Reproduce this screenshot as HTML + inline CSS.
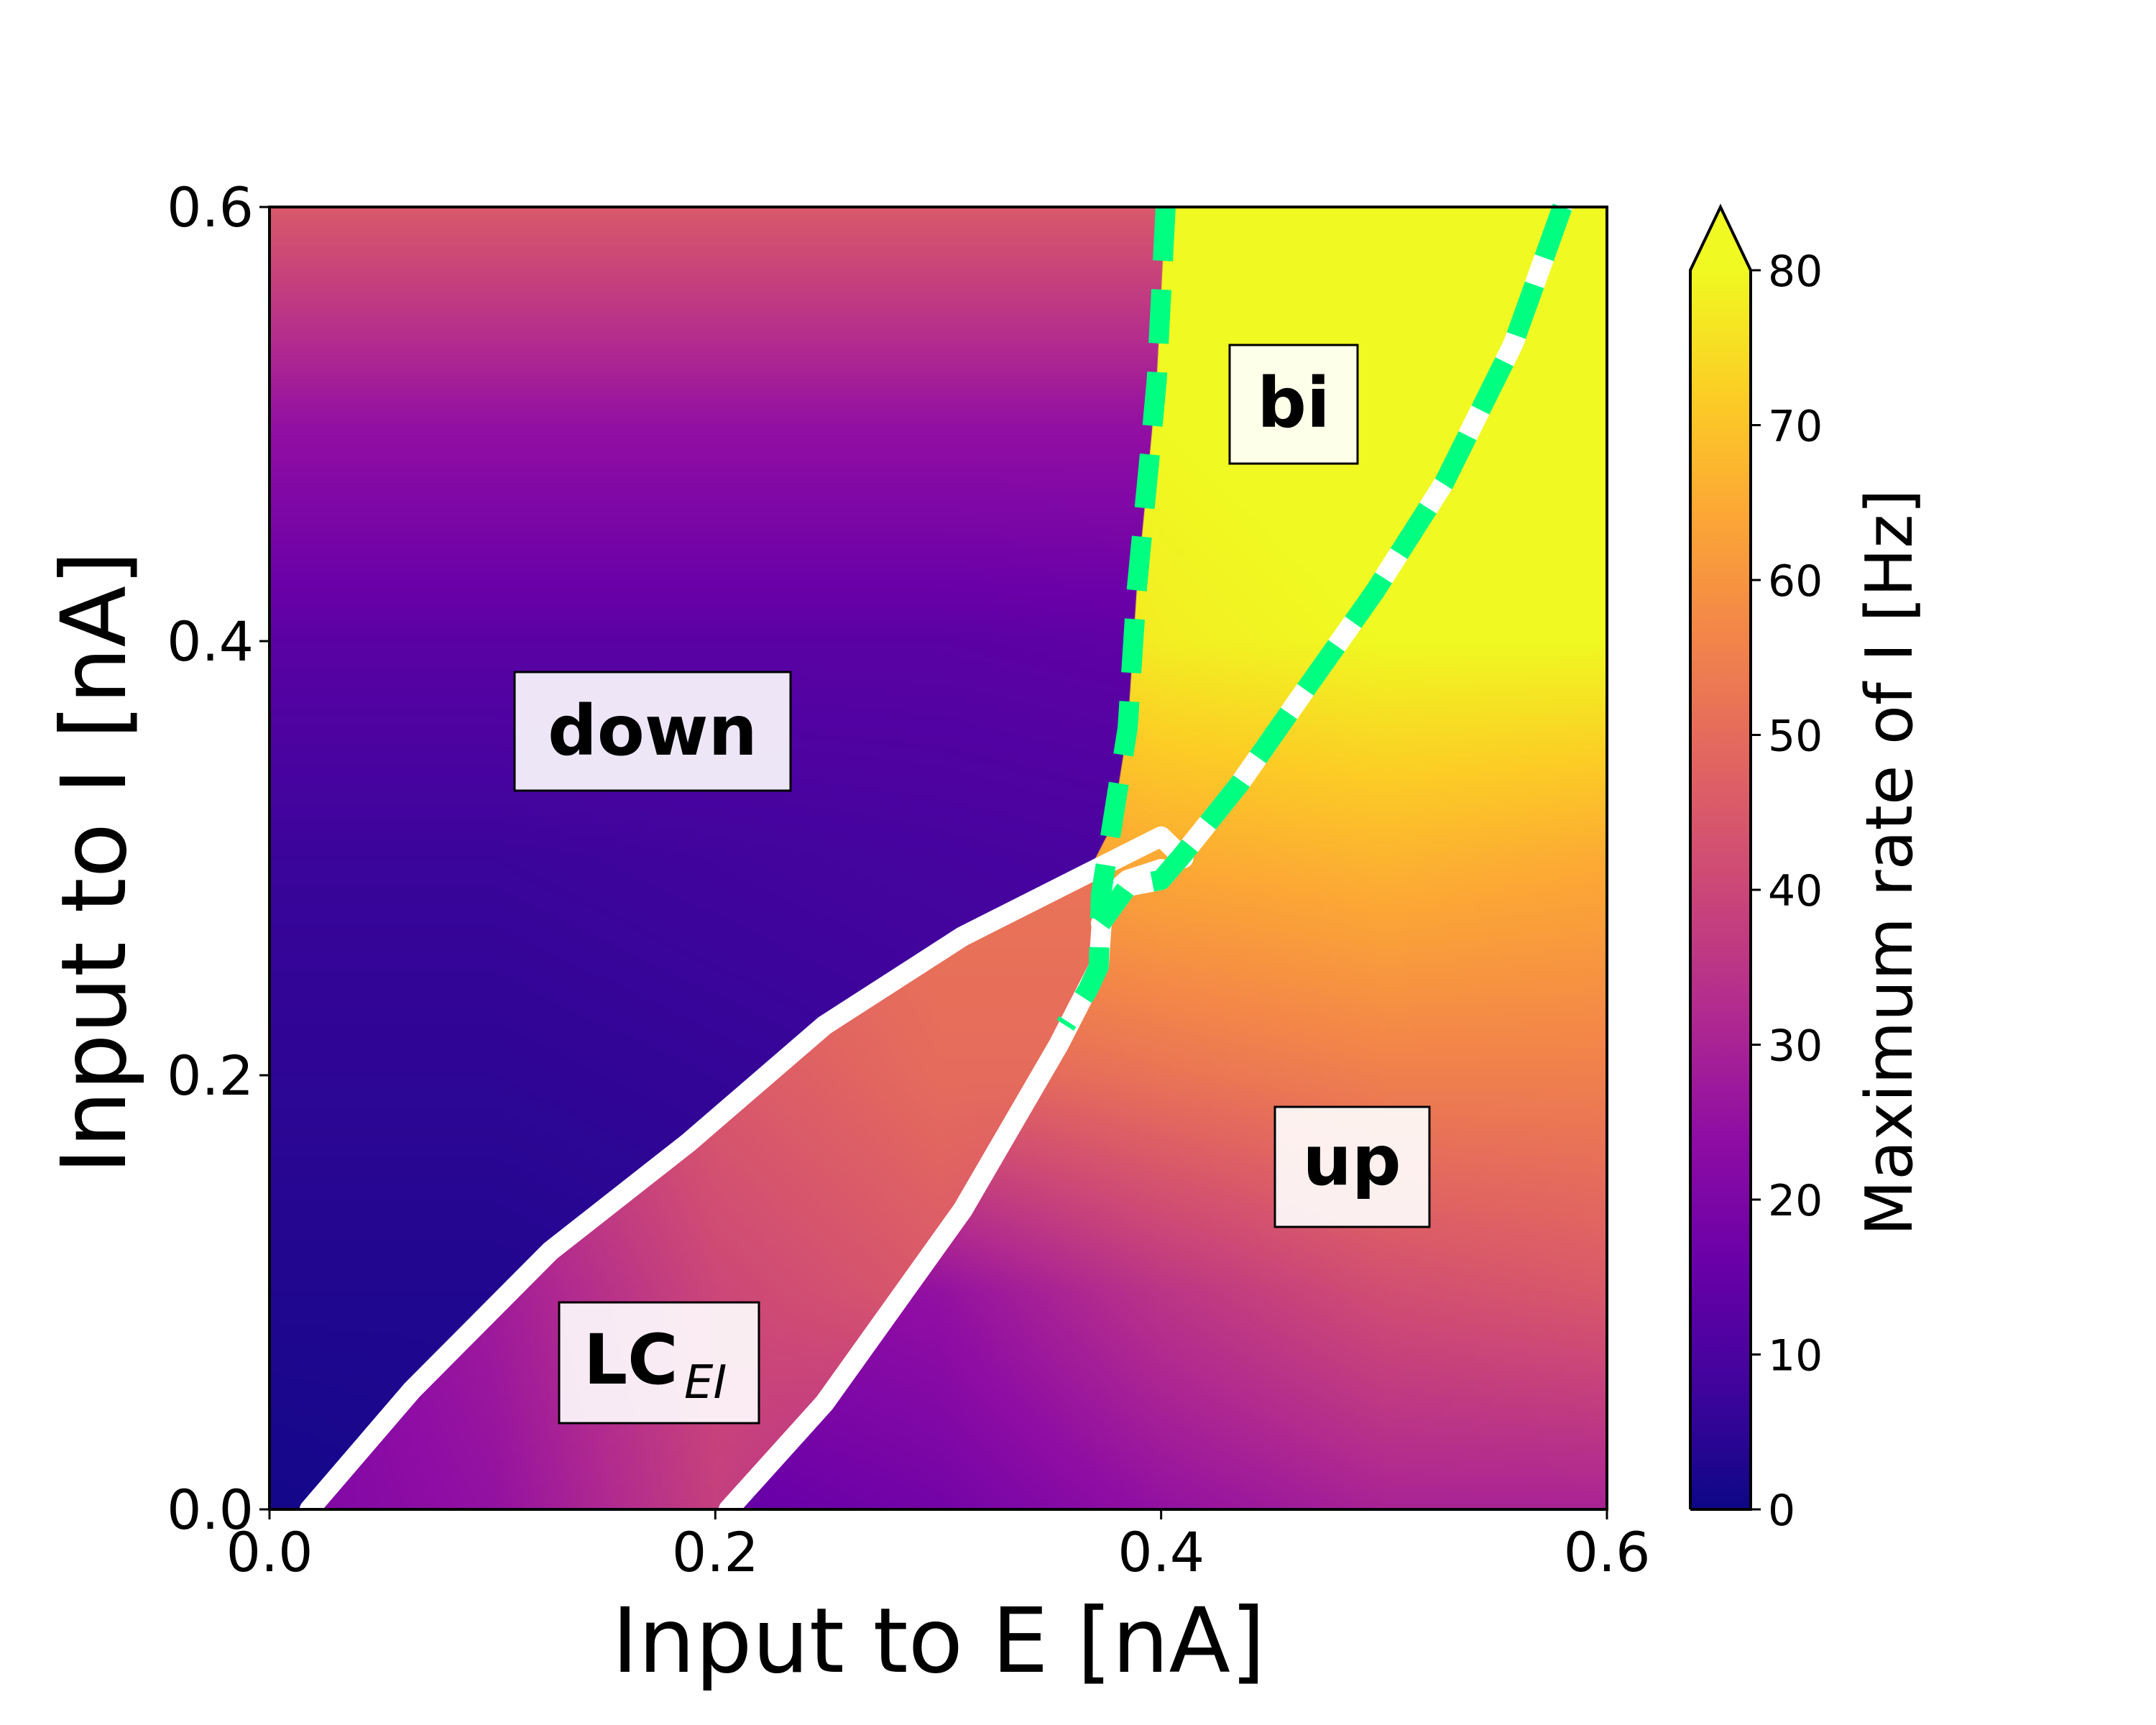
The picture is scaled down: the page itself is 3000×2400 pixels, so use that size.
<!DOCTYPE html>
<html><head><meta charset="utf-8"><style>
body{margin:0;background:#fff}
#wrap{position:relative;width:3000px;height:2400px;overflow:hidden;font-family:"DejaVu Sans","Liberation Sans",sans-serif}
canvas{position:absolute;left:0;top:0}
svg{position:absolute;left:0;top:0;font-family:"DejaVu Sans","Liberation Sans",sans-serif}
</style></head><body>
<div id="wrap">
<canvas id="heat" width="3000" height="2400"></canvas>
<svg id="ov" width="3000" height="2400"></svg>
</div>
<script>
// ---- data ----
const xTicks=[0,0.2,0.4,0.6];
const xTickLabels=["0.0","0.2","0.4","0.6"];
const yTicks=[0,0.2,0.4,0.6];
const yTickLabels=["0.0","0.2","0.4","0.6"];
const cbTicks=[0,10,20,30,40,50,60,70,80];
const gridAxis=[0,0.1,0.2,0.3,0.4,0.5,0.6];
// rows = y (0..0.6), cols = x (0..0.6), value in Hz
const downGrid=[[1,2,3,4,5,6,6],[3,3,4,5,6,7,7],[5,5,6,7,8,9,9],[7,7,8,9,10,10,10],[13,13,13,13,14,14,14],[25,25,25,25,25,25,25],[45,45,45,45,45,45,45]];
const lcGrid=[[20,25,38,30,20,15,15],[20,28,40,45,38,30,30],[30,35,45,50,50,45,45],[40,45,50,52,52,50,50],[45,45,50,52,52,50,50],[45,45,50,52,52,50,50],[45,45,50,52,52,50,50]];
const upGrid=[[15,15,15,18,25,30,30],[22,22,22,25,35,42,45],[45,45,45,48,52,55,55],[60,60,60,62,65,67,65],[70,70,70,72,78,80,80],[80,80,80,80,80,82,82],[82,82,82,82,82,82,82]];
const line1=[[0.018,0],[0.064,0.055],[0.126,0.119],[0.188,0.169],[0.249,0.223],[0.311,0.264],[0.367,0.293],[0.40,0.31],[0.41,0.30]];
const line2=[[0.206,0],[0.249,0.049],[0.311,0.138],[0.354,0.214],[0.372,0.25],[0.374,0.28],[0.385,0.29],[0.40,0.295]];
const green1=[[0.402,0.6],[0.398,0.52],[0.395,0.487],[0.389,0.423],[0.385,0.36],[0.378,0.315],[0.373,0.283],[0.372,0.25],[0.367,0.239],[0.357,0.223]];
const green2=[[0.58,0.6],[0.558,0.537],[0.527,0.473],[0.496,0.423],[0.465,0.378],[0.435,0.334],[0.41,0.302],[0.40,0.29],[0.385,0.287],[0.373,0.27]];
const plasma=["#0d0887","#41049d","#6a00a8","#8f0da4","#b12a90","#cc4778","#e16462","#f2844b","#fca636","#fcce25","#f0f921"];
// ---- axes ----
const X0=375,X1=2236,Y0=2100,Y1=288;
const sx=v=>X0+v/0.6*(X1-X0);
const sy=v=>Y0-v/0.6*(Y0-Y1);
const CB0=2100,CB80=376,CBX0=2352,CBX1=2436;
const sc=v=>CB0-v/80*(CB0-CB80);
function hex(h){return [parseInt(h.substr(1,2),16),parseInt(h.substr(3,2),16),parseInt(h.substr(5,2),16)];}
const pl=plasma.map(hex);
function cmap(v){let t=Math.max(0,Math.min(1,v/80))*10;let i=Math.min(9,Math.floor(t));let f=t-i;return pl[i].map((c,k)=>Math.round(c+(pl[i+1][k]-c)*f));}
function sample(g,x,y){let gx=Math.max(0,Math.min(5.999,x/0.1)),gy=Math.max(0,Math.min(5.999,y/0.1));let i=Math.floor(gx),j=Math.floor(gy),fx=gx-i,fy=gy-j;
return g[j][i]*(1-fx)*(1-fy)+g[j][i+1]*fx*(1-fy)+g[j+1][i]*(1-fx)*fy+g[j+1][i+1]*fx*fy;}
function layer(g){const W=311,H=302;const c=document.createElement('canvas');c.width=W;c.height=H;const cx=c.getContext('2d');const im=cx.createImageData(W,H);
for(let py=0;py<H;py++)for(let px=0;px<W;px++){const x=(px+0.5)/W*0.6,y=0.6-(py+0.5)/H*0.6;const col=cmap(sample(g,x,y));const o=(py*W+px)*4;im.data[o]=col[0];im.data[o+1]=col[1];im.data[o+2]=col[2];im.data[o+3]=255;}
cx.putImageData(im,0,0);return c;}
const ctx=document.getElementById('heat').getContext('2d');
ctx.imageSmoothingEnabled=true;
function drawClip(g,poly){ctx.save();if(poly){ctx.beginPath();poly.forEach((p,i)=>{i?ctx.lineTo(sx(p[0]),sy(p[1])):ctx.moveTo(sx(p[0]),sy(p[1]));});ctx.closePath();ctx.clip();}
ctx.drawImage(layer(g),X0,Y1,X1-X0,Y0-Y1);ctx.restore();}
drawClip(upGrid,null);
const downPoly=[[0,0]].concat(line1.slice(0,7),[[0.378,0.315]],green1.slice(0,6).reverse(),[[0,0.6]]);
drawClip(downGrid,downPoly);
const lcPoly=line1.slice(0,7).concat([[0.374,0.28],[0.372,0.25]],line2.slice(0,4).reverse());
drawClip(lcGrid,lcPoly);
// colorbar
const cg=ctx.createLinearGradient(0,CB0,0,CB80);plasma.forEach((c,i)=>cg.addColorStop(i/10,c));
ctx.fillStyle=cg;ctx.fillRect(CBX0,CB80,CBX1-CBX0,CB0-CB80);
ctx.fillStyle="#f0f921";ctx.beginPath();ctx.moveTo(CBX0,CB80);ctx.lineTo((CBX0+CBX1)/2,Y1);ctx.lineTo(CBX1,CB80);ctx.closePath();ctx.fill();
// ---- svg overlay ----
const NS="http://www.w3.org/2000/svg";const svg=document.getElementById('ov');
function el(t,a,txt){const e=document.createElementNS(NS,t);for(const k in a)e.setAttribute(k,a[k]);if(txt!==undefined)e.textContent=txt;svg.appendChild(e);return e;}
function pts(a){return a.map(p=>sx(p[0]).toFixed(1)+","+sy(p[1]).toFixed(1)).join(" ");}
let e;
e=el('polyline',{points:pts(line1),fill:"none",stroke:"#fff","stroke-width":28,"stroke-linejoin":"round","stroke-linecap":"round"});


e=el('polyline',{points:pts(line2),fill:"none",stroke:"#fff","stroke-width":28,"stroke-linejoin":"round","stroke-linecap":"round"});


e=el('polyline',{points:pts(green2),fill:"none",stroke:"#fff","stroke-width":28,"stroke-linejoin":"round","stroke-linecap":"round"});


e=el('polyline',{points:pts(green1),fill:"none",stroke:"#00ff80","stroke-width":28,"stroke-dasharray":"75 40","stroke-linejoin":"round"});


e=el('polyline',{points:pts(green2),fill:"none",stroke:"#00ff80","stroke-width":28,"stroke-dasharray":"75 40","stroke-linejoin":"round"});


e=el('rect',{x:X0,y:Y1,width:X1-X0,height:Y0-Y1,fill:"none",stroke:"#000","stroke-width":4});


e=el('polyline',{points:`${CBX0},${CB0} ${CBX0},${CB80} ${(CBX0+CBX1)/2},${Y1} ${CBX1},${CB80} ${CBX1},${CB0} ${CBX0},${CB0}`,fill:"none",stroke:"#000","stroke-width":4});


xTicks.forEach((v,i)=>{e=el('line',{x1:sx(v),x2:sx(v),y1:Y0,y2:Y0+14,stroke:"#000","stroke-width":3});


e=el('text',{x:sx(v),y:Y0+86,"font-size":76,"text-anchor":"middle"},xTickLabels[i]);

});
yTicks.forEach((v,i)=>{e=el('line',{x1:X0-14,x2:X0,y1:sy(v),y2:sy(v),stroke:"#000","stroke-width":3});


e=el('text',{x:X0-22,y:sy(v)+27,"font-size":76,"text-anchor":"end"},yTickLabels[i]);

});
cbTicks.forEach(v=>{e=el('line',{x1:CBX1,x2:CBX1+14,y1:sc(v),y2:sc(v),stroke:"#000","stroke-width":3});


e=el('text',{x:CBX1+24,y:sc(v)+22,"font-size":60},String(v));

});
e=el('text',{x:1306,y:2326,"font-size":125,"text-anchor":"middle"},"Input to E [nA]");


e=el('text',{x:0,y:0,"font-size":125,"text-anchor":"middle",transform:"translate(174,1200) rotate(-90)"},"Input to I [nA]");


e=el('text',{x:0,y:0,"font-size":90,"text-anchor":"middle",transform:"translate(2660,1200) rotate(-90)"},"Maximum rate of I [Hz]");


function box(name,x,y,w,h){e=el('rect',{x:x,y:y,width:w,height:h,fill:"rgba(255,255,255,0.9)",stroke:"#000","stroke-width":3});

}
box('down-label-box',716,935,384,165);
e=el('text',{x:908,y:1050,"font-size":96,"font-weight":"bold","text-anchor":"middle"},"down");


box('bi-label-box',1711,480,178,165);
e=el('text',{x:1800,y:594,"font-size":96,"font-weight":"bold","text-anchor":"middle"},"bi");


box('up-label-box',1774,1540,215,167);
e=el('text',{x:1881,y:1648,"font-size":96,"font-weight":"bold","text-anchor":"middle"},"up");


box('lc-label-box',778,1812,278,168);
e=el('text',{x:812,y:1925,"font-size":96,"font-weight":"bold"},"LC");


e=el('text',{x:952,y:1945,"font-size":64,"font-style":"italic"},"EI");


</script>
</body></html>
